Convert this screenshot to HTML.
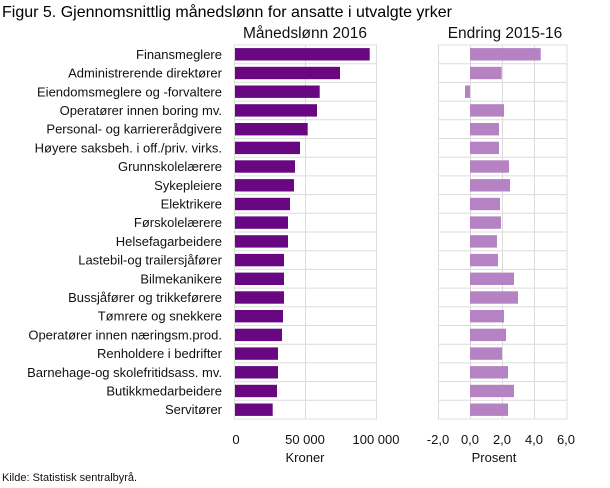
<!DOCTYPE html>
<html><head><meta charset="utf-8"><style>
html,body{margin:0;padding:0;background:#fff;}
svg{display:block;font-family:"Liberation Sans",sans-serif;}
</style></head><body>
<svg width="610" height="488" viewBox="0 0 610 488" xmlns="http://www.w3.org/2000/svg">
<text x="2" y="17" font-size="16" fill="#000">Figur 5. Gjennomsnittlig månedslønn for ansatte i utvalgte yrker</text>
<text x="305" y="38" font-size="15.5" text-anchor="middle" fill="#111">Månedslønn 2016</text>
<text x="505" y="38" font-size="15.5" text-anchor="middle" fill="#111">Endring 2015-16</text>
<g id="chart"></g>
<g font-size="13" fill="#111">
<text x="236" y="444" text-anchor="middle">0</text>
<text x="305" y="444" text-anchor="middle">50 000</text>
<text x="376" y="444" text-anchor="middle">100 000</text>
<text x="305" y="462" text-anchor="middle">Kroner</text>
<text x="438" y="444" text-anchor="middle">-2,0</text>
<text x="470" y="444" text-anchor="middle">0,0</text>
<text x="502" y="444" text-anchor="middle">2,0</text>
<text x="534" y="444" text-anchor="middle">4,0</text>
<text x="566" y="444" text-anchor="middle">6,0</text>
<text x="494" y="462" text-anchor="middle">Prosent</text>
<text x="2" y="481" font-size="11">Kilde: Statistisk sentralbyrå.</text>
</g>
</svg>
<script>
(function(){
var labels=["Finansmeglere","Administrerende direktører","Eiendomsmeglere og -forvaltere","Operatører innen boring mv.","Personal- og karriererådgivere","Høyere saksbeh. i off./priv. virks.","Grunnskolelærere","Sykepleiere","Elektrikere","Førskolelærere","Helsefagarbeidere","Lastebil-og trailersjåfører","Bilmekanikere","Bussjåfører og trikkeførere","Tømrere og snekkere","Operatører innen næringsm.prod.","Renholdere i bedrifter","Barnehage-og skolefritidsass. mv.","Butikkmedarbeidere","Servitører"];
var L=[134.7,105,84.7,82,72.7,65,60,59,55,53,53,49,49,49,48,47,43,43,42,37.7];
var R=[70.7,31.7,-5,34,29,29,39,40,30,31,27,28,44,48,34,36,32,38,44,38];
var t0=45,b0=419,n=20,h=(b0-t0)/n,s="";
s+='<g stroke="#dcdcdc" stroke-width="1" fill="none">';
s+='<rect x="234.5" y="'+t0+'" width="142" height="'+(b0-t0)+'"/>';
s+='<line x1="305.5" y1="'+t0+'" x2="305.5" y2="'+b0+'"/>';
s+='<rect x="438.5" y="'+t0+'" width="128.5" height="'+(b0-t0)+'"/>';
s+='<line x1="470.5" y1="'+t0+'" x2="470.5" y2="'+b0+'"/>';
s+='<line x1="502.5" y1="'+t0+'" x2="502.5" y2="'+b0+'"/>';
s+='<line x1="534.5" y1="'+t0+'" x2="534.5" y2="'+b0+'"/>';
for(var i=1;i<n;i++){var y=(t0+h*i).toFixed(1);s+='<line x1="234" y1="'+y+'" x2="377" y2="'+y+'"/><line x1="438" y1="'+y+'" x2="567" y2="'+y+'"/>';}
s+='</g>';
for(var i=0;i<n;i++){var c=t0+h*i+h/2;
s+='<text x="222" y="'+(c+4.5).toFixed(1)+'" font-size="13" text-anchor="end" fill="#111">'+labels[i]+'</text>';
s+='<rect x="235" y="'+(c-6.2).toFixed(1)+'" width="'+L[i]+'" height="12.4" fill="#690783"/>';
var x=R[i]<0?470+R[i]:470;
s+='<rect x="'+x+'" y="'+(c-6.2).toFixed(1)+'" width="'+Math.abs(R[i])+'" height="12.4" fill="#b583c3"/>';}
document.getElementById("chart").innerHTML=s;
})();
</script>
</body></html>
